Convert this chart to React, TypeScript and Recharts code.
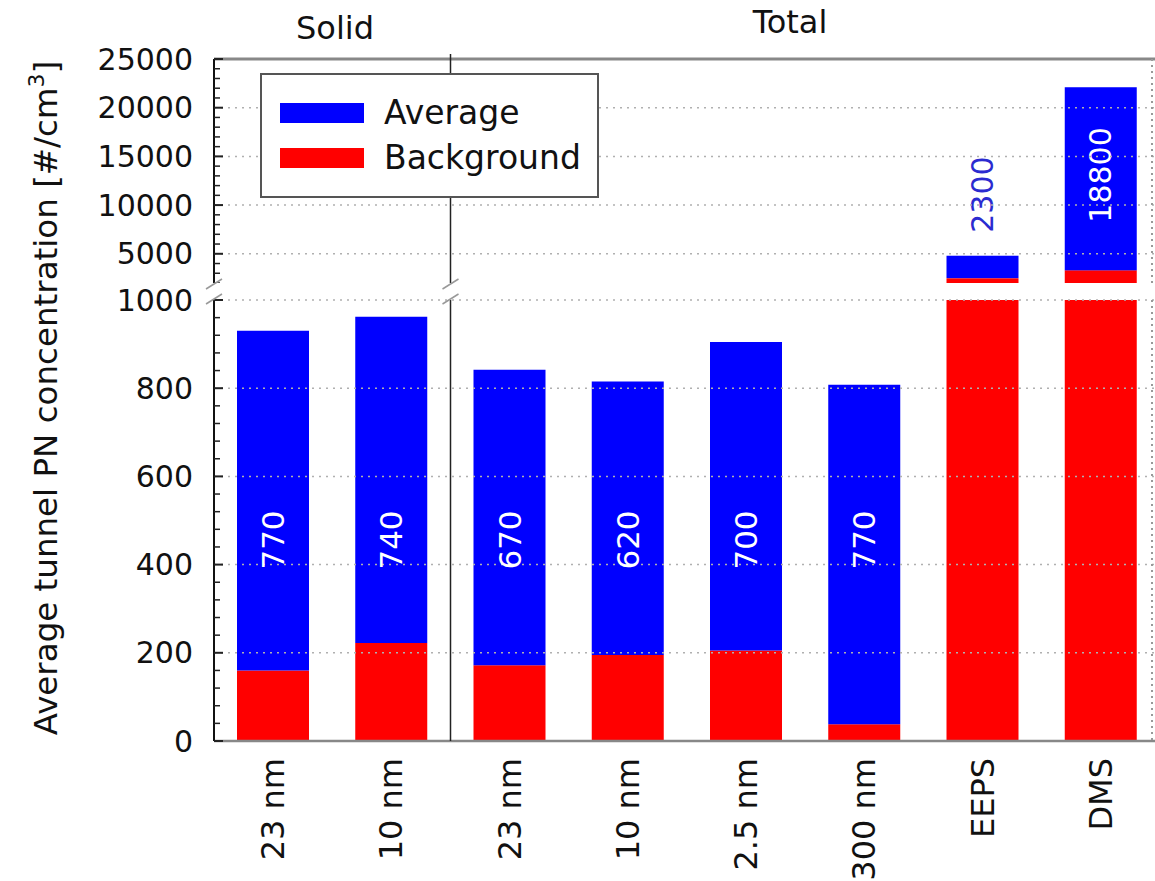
import React from "react";
import { Bar, BarChart, LabelList, ReferenceLine, XAxis, YAxis } from "recharts";

// values
const categories = ["23 nm", "10 nm", "23 nm", "10 nm", "2.5 nm", "300 nm", "EEPS", "DMS"];
const background = [160, 222, 172, 195, 205, 38, 2500, 3300];
const excess = [770, 740, 670, 620, 700, 770, 2300, 18800];
const groups = ["Solid", "Total"];
const lowerTickLabels = [0, 200, 400, 600, 800, 1000];
const upperTickLabels = [5000, 10000, 15000, 20000, 25000];
const seriesNames = ["Average", "Background"];

const BLUE = "#0000ff";
const RED = "#ff0000";
const FONT = "'DejaVu Sans', Verdana, sans-serif";

const data = categories.map((name, i) => ({
  key: `c${i}`,
  name,
  background: background[i],
  excess: excess[i],
}));

// layout of the broken axis
const W = 1160;
const AXIS_W = 214;
const UP_TOP = 59;
const UP_BOTTOM = 283;
const LO_TOP = 300;
const LO_BOTTOM = 741;
const LOWER_MAX = 1000;
const UPPER_MIN = 2000;
const UPPER_MAX = 25000;
const LOWER_LABEL_Y = 540;
const SEP_X = 450.5;

const lowerTicks = Array.from({ length: 26 }, (_, i) => i * 40);
const upperTicks = Array.from({ length: 24 }, (_, i) => UPPER_MIN + i * 1000);

const total = (i: number) => background[i] + excess[i];

function YTick(props: any) {
  const { x, y, payload, labels } = props;
  const major = labels.includes(payload.value);
  return (
    <g>
      <line x1={x} x2={x + (major ? 9 : 6)} y1={y} y2={y} stroke="#222" strokeWidth={major ? 2 : 1.5} />
      {major && (
        <text
          x={x - 21}
          y={y}
          textAnchor="end"
          dominantBaseline="central"
          fontSize={30}
          fill="#111"
          fontFamily={FONT}
        >
          {payload.value}
        </text>
      )}
    </g>
  );
}

function XTick(props: any) {
  const { x, y, index } = props;
  return (
    <text
      x={x}
      y={y}
      transform={`rotate(-90, ${x}, ${y})`}
      textAnchor="end"
      dominantBaseline="central"
      fontSize={32}
      fill="#111"
      fontFamily={FONT}
    >
      {categories[index]}
    </text>
  );
}

function LowerLabel(props: any) {
  const { index, value } = props;
  if (total(index) > LOWER_MAX) return null;
  const cx = Number(props.x) + Number(props.width) / 2;
  return (
    <text
      x={cx}
      y={LOWER_LABEL_Y}
      transform={`rotate(-90, ${cx}, ${LOWER_LABEL_Y})`}
      textAnchor="middle"
      dominantBaseline="central"
      fill="#fff"
      fontSize={31}
      fontFamily={FONT}
    >
      {value}
    </text>
  );
}

// blue bar of the upper part, with its value written above it or inside its top
function UpperBar(props: any) {
  const { index, fill } = props;
  const x = Number(props.x);
  const w = Number(props.width);
  const h = Number(props.height);
  const top = h >= 0 ? Number(props.y) : Number(props.y) + h;
  const rect = <rect x={x} y={top} width={w} height={Math.abs(h)} fill={fill} />;
  if (total(index) <= LOWER_MAX) return rect;
  const cx = x + w / 2;
  const inside = Math.abs(h) > 120;
  const ly = inside ? top + 40 : top - 23;
  return (
    <g>
      {rect}
      <text
        x={cx}
        y={ly}
        transform={`rotate(-90, ${cx}, ${ly})`}
        textAnchor={inside ? "end" : "start"}
        dominantBaseline="central"
        fill={inside ? "#fff" : "#2b2bd0"}
        fontSize={30}
        fontFamily={FONT}
      >
        {excess[index]}
      </text>
    </g>
  );
}

const gridDash = { stroke: "#b0b0b0", strokeDasharray: "2 5", strokeWidth: 1.5 };

export default function App() {
  return (
    <div
      style={{
        position: "absolute",
        left: 0,
        top: 0,
        width: 1155,
        height: 881,
        overflow: "hidden",
        background: "#fff",
        fontFamily: FONT,
      }}
    >
      {/* lower part: 0 - 1000 */}
      <div style={{ position: "absolute", left: 0, top: 0 }}>
        <BarChart
          width={W}
          height={881}
          data={data}
          barSize={72}
          margin={{ top: LO_TOP, right: 0, bottom: 0, left: 0 }}
        >
          {lowerTickLabels.slice(1).map((v) => (
            <ReferenceLine key={v} y={v} {...gridDash} />
          ))}
          <XAxis
            dataKey="key"
            interval={0}
            height={881 - LO_BOTTOM}
            tickSize={0}
            tickMargin={17}
            tickLine={false}
            axisLine={{ stroke: "#888", strokeWidth: 2.5 }}
            tick={<XTick />}
          />
          <YAxis
            type="number"
            domain={[0, LOWER_MAX]}
            allowDataOverflow
            ticks={lowerTicks}
            interval={0}
            width={AXIS_W}
            tickSize={0}
            tickMargin={0}
            tickLine={false}
            axisLine={{ stroke: "#111", strokeWidth: 2 }}
            tick={<YTick labels={lowerTickLabels} />}
          />
          <Bar dataKey="background" name={seriesNames[1]} stackId="a" fill={RED} isAnimationActive={false} />
          <Bar dataKey="excess" name={seriesNames[0]} stackId="a" fill={BLUE} isAnimationActive={false}>
            <LabelList dataKey="excess" content={<LowerLabel />} />
          </Bar>
        </BarChart>
      </div>

      {/* upper part: 2000 - 25000 */}
      <div style={{ position: "absolute", left: 0, top: 0 }}>
        <BarChart
          width={W}
          height={UP_BOTTOM}
          data={data}
          barSize={72}
          margin={{ top: UP_TOP, right: 0, bottom: 0, left: 0 }}
        >
          {upperTickLabels.slice(0, -1).map((v) => (
            <ReferenceLine key={v} y={v} {...gridDash} />
          ))}
          <ReferenceLine y={UPPER_MAX} stroke="#888" strokeWidth={3} />
          <XAxis dataKey="key" hide />
          <YAxis
            type="number"
            domain={[UPPER_MIN, UPPER_MAX]}
            allowDataOverflow
            ticks={upperTicks}
            interval={0}
            width={AXIS_W}
            tickSize={0}
            tickMargin={0}
            tickLine={false}
            axisLine={{ stroke: "#111", strokeWidth: 2 }}
            tick={<YTick labels={upperTickLabels} />}
          />
          <Bar dataKey="background" stackId="a" fill={RED} isAnimationActive={false} />
          <Bar dataKey="excess" stackId="a" fill={BLUE} shape={<UpperBar />} isAnimationActive={false} />
        </BarChart>
      </div>

      {/* decorations: axis title, group headers, separators, break marks */}
      <svg
        width={1155}
        height={881}
        style={{ position: "absolute", left: 0, top: 0, pointerEvents: "none" }}
      >
        <text
          x={57}
          y={398}
          transform="rotate(-90, 57, 398)"
          textAnchor="middle"
          fontSize={32.5}
          fill="#111"
          fontFamily={FONT}
        >
          Average tunnel PN concentration [#/cm
          <tspan dy={-13} fontSize={22}>3</tspan>
          <tspan dy={13}>]</tspan>
        </text>
        <text x={335} y={28} textAnchor="middle" dominantBaseline="central" fontSize={32} fill="#111">
          {groups[0]}
        </text>
        <text x={790} y={22} textAnchor="middle" dominantBaseline="central" fontSize={32} fill="#111">
          {groups[1]}
        </text>
        <line x1={SEP_X} x2={SEP_X} y1={54} y2={UP_BOTTOM} stroke="#222" strokeWidth={1.5} />
        <line x1={SEP_X} x2={SEP_X} y1={LO_TOP} y2={LO_BOTTOM} stroke="#222" strokeWidth={1.5} />
        <line x1={1152} x2={1152} y1={UP_TOP} y2={UP_BOTTOM} stroke="#999" strokeWidth={2} strokeDasharray="2 4" />
        <line x1={1152} x2={1152} y1={LO_TOP} y2={LO_BOTTOM} stroke="#999" strokeWidth={2} strokeDasharray="2 4" />
        {[AXIS_W, SEP_X].map((bx) => (
          <g key={bx} stroke="#999" strokeWidth={1.5}>
            <line x1={bx - 8} x2={bx + 8} y1={UP_BOTTOM + 6} y2={UP_BOTTOM - 4} />
            <line x1={bx - 8} x2={bx + 8} y1={LO_TOP + 4} y2={LO_TOP - 6} />
          </g>
        ))}
      </svg>

      {/* legend */}
      <div
        style={{
          position: "absolute",
          left: 260,
          top: 73,
          width: 339,
          height: 125,
          boxSizing: "border-box",
          border: "2px solid #555",
          background: "#fff",
        }}
      >
        {seriesNames.map((name, i) => (
          <div key={name}>
            <div
              style={{
                position: "absolute",
                left: 18,
                top: 28 + i * 45,
                width: 84,
                height: 20,
                background: i === 0 ? BLUE : RED,
              }}
            />
            <div
              style={{
                position: "absolute",
                left: 122,
                top: 18 + i * 45,
                fontSize: 33,
                lineHeight: "40px",
                color: "#111",
                whiteSpace: "nowrap",
              }}
            >
              {name}
            </div>
          </div>
        ))}
      </div>
    </div>
  );
}
